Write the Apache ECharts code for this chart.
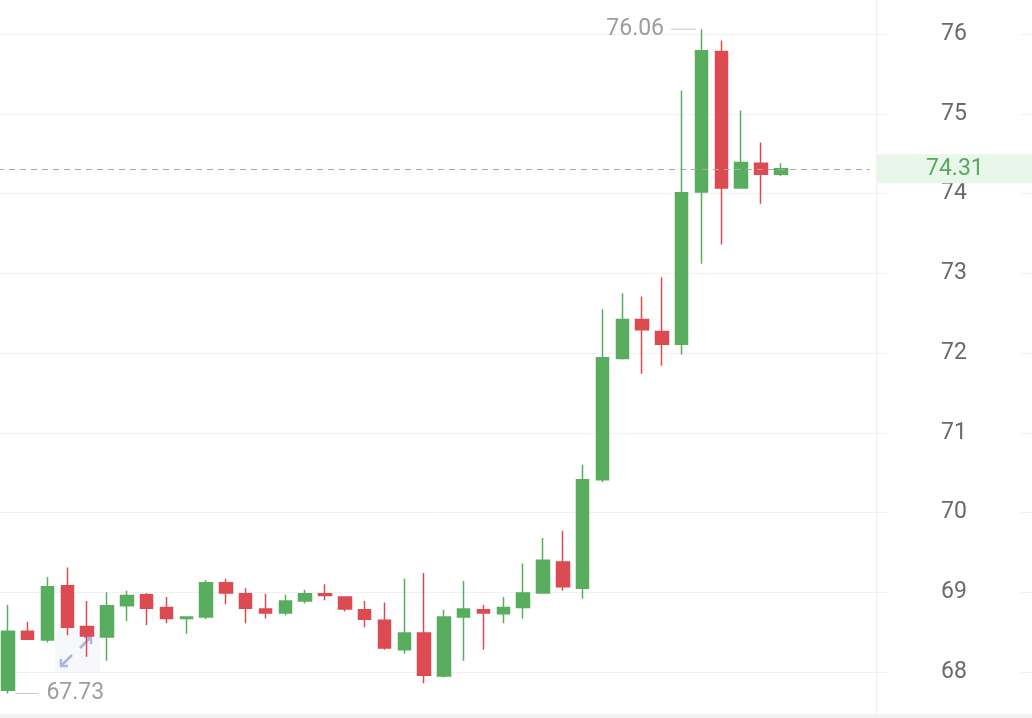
<!DOCTYPE html>
<html>
<head>
<meta charset="utf-8">
<script src="https://cdn.jsdelivr.net/npm/echarts@6/dist/echarts.min.js"></script>
<style>
html,body{margin:0;padding:0;background:#fff;}
#chart{width:1032px;height:718px;}
</style>
</head>
<body>
<div id="chart"></div>
<script>
// ---- data ----
var categories = ['1','2','3','4','5','6','7','8','9','10','11','12','13','14','15','16','17','18','19','20',
  '21','22','23','24','25','26','27','28','29','30','31','32','33','34','35','36','37','38','39','40',
  '41','42','43','44'];
var opens  = [67.77,68.51,68.40,69.08,68.57,68.44,68.83,68.97,68.81,68.67,68.69,69.12,68.98,68.79,68.74,68.89,68.98,68.94,68.78,68.65,
              68.28,68.49,67.95,68.69,68.78,68.73,68.81,68.99,69.38,69.05,70.41,71.93,72.42,72.27,72.11,74.02,75.78,74.07,74.38,74.24];
var closes = [68.51,68.41,69.07,68.56,68.45,68.83,68.96,68.80,68.67,68.69,69.12,68.99,68.80,68.74,68.89,68.98,68.96,68.79,68.66,68.30,
              68.49,67.96,68.69,68.79,68.74,68.81,68.99,69.40,69.07,70.41,71.94,72.42,72.29,72.11,74.01,75.79,74.07,74.39,74.24,74.31];
var lows   = [67.73,68.40,68.37,68.46,68.19,68.14,68.64,68.59,68.61,68.48,68.66,68.85,68.61,68.67,68.71,68.86,68.90,68.76,68.56,68.28,
              68.23,67.86,67.93,68.14,68.28,68.61,68.67,68.98,69.02,68.92,70.38,71.92,71.74,71.84,71.98,73.12,73.36,74.06,73.87,74.22];
var highs  = [68.84,68.63,69.19,69.31,68.89,69.00,69.02,68.99,68.94,68.70,69.15,69.17,69.05,68.98,68.97,69.03,69.10,68.95,68.89,68.87,
              69.17,69.24,68.78,69.14,68.84,68.94,69.36,69.68,69.77,70.60,72.55,72.75,72.71,72.95,75.29,76.06,75.92,75.04,74.64,74.38];
var lastPrice = 74.31;
var yTicks = [68,69,70,71,72,73,74,75,76];

var candleData = opens.map(function(o,i){ return [o, closes[i], lows[i], highs[i]]; });

var GREEN = '#58ad5f', RED = '#dc4b52';
var chart = echarts.init(document.getElementById('chart'), null, {renderer:'canvas'});

var option = {
  animation:false,
  backgroundColor:'#ffffff',
  grid:[
    {left:-2, right:162, top:-45.75, bottom:-33.75, outerBoundsMode:'none', containLabel:false},
    {left:870, right:0, top:-45.75, bottom:-33.75, outerBoundsMode:'none', containLabel:false}
  ],
  xAxis:[
    {type:'category', gridIndex:0, data:categories, boundaryGap:true,
     axisLine:{show:false}, axisTick:{show:false}, axisLabel:{show:false}, splitLine:{show:false}},
    {type:'value', gridIndex:1, min:0, max:1, show:false}
  ],
  yAxis:[
    {type:'value', gridIndex:1, position:'left', min:67, max:77, interval:1,
     axisLine:{show:false}, axisTick:{show:false},
     axisLabel:{show:true, inside:true, align:'center', margin:84, color:'#6a6a6a', fontSize:23,
       fontFamily:'Roboto, "Noto Sans", sans-serif', backgroundColor:'#ffffff', padding:[4,54,0,54],
       formatter:function(v){ return yTicks.indexOf(v) >= 0 ? String(v) : ''; }},
     splitLine:{show:true, lineStyle:{color:'#f1f1f1', width:1}}},
    {type:'value', gridIndex:0, position:'right', offset:6, min:67, max:77, interval:1,
     axisLine:{show:true, lineStyle:{color:'#efefef', width:1}}, axisTick:{show:false}, axisLabel:{show:false},
     splitLine:{show:true, lineStyle:{color:'#f1f1f1', width:1}}}
  ],
  series:[{
    type:'candlestick',
    xAxisIndex:0, yAxisIndex:1,
    data:candleData,
    barWidth:13,
    itemStyle:{color:GREEN, color0:RED, borderColor:GREEN, borderColor0:RED, borderWidth:1.5},
    markLine:{
      silent:true, symbol:['none','none'],
      lineStyle:{type:[6,5], color:'#a8a8a8', width:1.2},
      label:{show:true, position:'end', distance:6, formatter:function(){ return lastPrice.toFixed(2); },
        color:'#5aa860', fontSize:23, fontFamily:'Roboto, "Noto Sans", sans-serif',
        backgroundColor:'#e9f6ea', padding:[5,0,5,50], width:106, lineHeight:19, align:'left'},
      data:[{yAxis:lastPrice}]
    },
    markPoint:{
      silent:true, symbol:'circle', symbolSize:1,
      itemStyle:{color:'rgba(0,0,0,0)'},
      data:[
        {type:'max', valueDim:'highest',
         label:{show:true, position:'left', distance:5,
           formatter:function(p){ return '{v|' + Number(p.value).toFixed(2) + '}{l|}'; },
           rich:{v:{color:'#9d9d9d', fontSize:23, fontFamily:'Roboto, "Noto Sans", sans-serif', padding:[0,7,0,0]},
                 l:{width:25, height:1, backgroundColor:'#c8c8c8'}}}},
        {type:'min', valueDim:'lowest',
         label:{show:true, position:'right', distance:7,
           formatter:function(p){ return '{l|}{v|' + Number(p.value).toFixed(2) + '}'; },
           rich:{v:{color:'#9d9d9d', fontSize:23, fontFamily:'Roboto, "Noto Sans", sans-serif', padding:[0,0,0,8]},
                 l:{width:23, height:1, backgroundColor:'#c8c8c8'}}}}
      ]
    }
  }],
  graphic:[
    {type:'rect', left:0, top:714, shape:{width:1032, height:4}, style:{fill:'#f2f2f2'}, silent:true},
    {type:'group', left:55, top:630, silent:true, children:[
      {type:'rect', shape:{x:0,y:0,width:45,height:42,r:4}, style:{fill:'rgba(240,242,250,0.5)'}},
      {type:'polyline', shape:{points:[[25,18],[36,7]]}, style:{stroke:'#aab4e2', lineWidth:2.5, fill:null}},
      {type:'polyline', shape:{points:[[29,7],[36,7],[36,14]]}, style:{stroke:'#aab4e2', lineWidth:2.5, fill:null}},
      {type:'polyline', shape:{points:[[17,25],[6,36]]}, style:{stroke:'#aab4e2', lineWidth:2.5, fill:null}},
      {type:'polyline', shape:{points:[[6,29],[6,36],[13,36]]}, style:{stroke:'#aab4e2', lineWidth:2.5, fill:null}}
    ]}
  ]
};
chart.setOption(option);
</script>
</body>
</html>
